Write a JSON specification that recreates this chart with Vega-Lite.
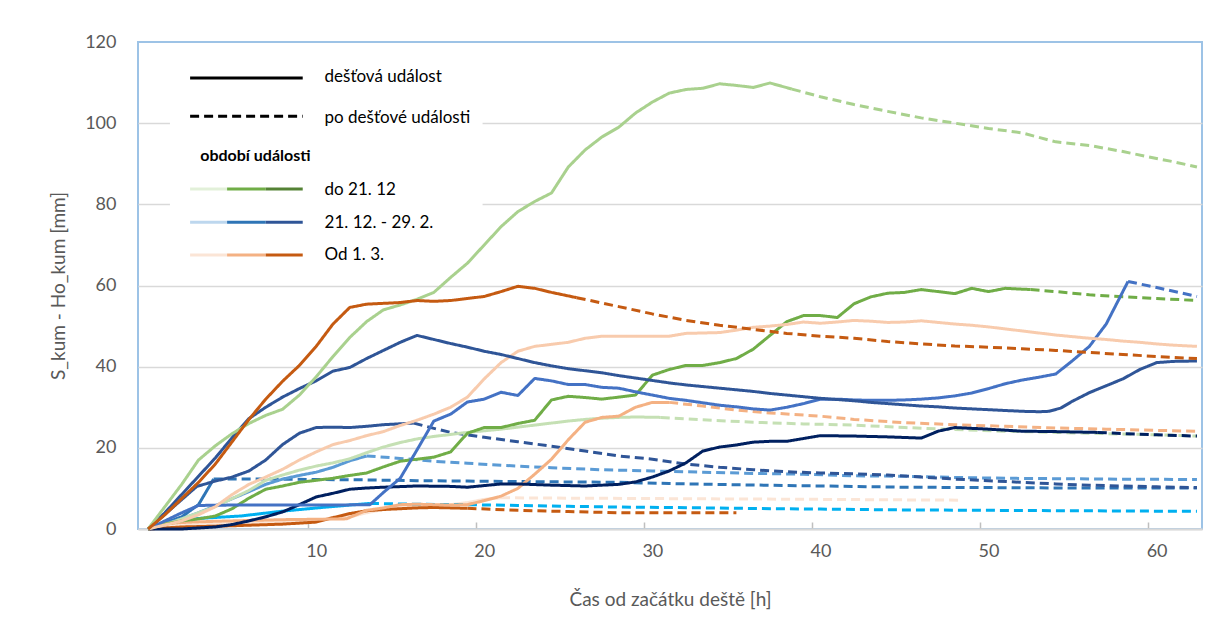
{
"$schema": "https://vega.github.io/schema/vega-lite/v6.json",
"width": 1064, "height": 487,
"autosize": {"type": "none"},
"padding": {"left": 138, "top": 42, "right": 22, "bottom": 107},
"background": "white",
"config": {
  "font": "Lato",
  "view": {"stroke": "#9DC3E6", "strokeWidth": 2},
  "axisX": {"grid": false, "domainColor": "#D9D9D9", "domainWidth": 2, "tickColor": "#BFBFBF", "tickWidth": 1.5, "tickSize": -7, "tickOffset": -8.4, "labelOffset": 8.4, "labelFontSize": 18, "labelColor": "#595959", "labelPadding": 20, "titleFontSize": 19, "titleColor": "#595959", "titleFontWeight": "normal", "titlePadding": 30},
  "axisY": {"domain": false, "ticks": false, "gridColor": {"condition": {"test": "datum.value === 120", "value": "transparent"}, "value": "#D9D9D9"}, "gridWidth": 1.5, "labelFontSize": 18, "labelColor": "#595959", "labelPadding": 22, "titleFontSize": 19, "titleColor": "#595959", "titleFontWeight": "normal", "titlePadding": 16}
},
"encoding": {
  "x": {"field": "x", "type": "quantitative", "scale": {"domain": [-0.6, 62.7], "nice": false, "zero": false}, "axis": {"values": [10, 20, 30, 40, 50, 60], "title": "Čas od začátku deště [h]"}},
  "y": {"field": "y", "type": "quantitative", "scale": {"domain": [0, 120], "nice": false}, "axis": {"values": [0, 20, 40, 60, 80, 100, 120], "title": "S_kum - Ho_kum [mm]"}}
},
"datasets": {
  "box": [{"x": 1.3, "x2": 19.9, "y": 64, "y2": 119.5}],
  "leg": [
    {"s": "K", "p": "d", "x": 2.5, "x2": 9.2, "y": 111.1},
    {"s": "K", "p": "a", "x": 2.5, "x2": 9.2, "y": 101.7},
    {"s": "LG1", "p": "d", "x": 2.5, "x2": 4.7, "y": 83.8},
    {"s": "LG2", "p": "d", "x": 4.7, "x2": 7.0, "y": 83.8},
    {"s": "LG3", "p": "d", "x": 7.0, "x2": 9.2, "y": 83.8},
    {"s": "LB1", "p": "d", "x": 2.5, "x2": 4.7, "y": 75.6},
    {"s": "LB2", "p": "d", "x": 4.7, "x2": 7.0, "y": 75.6},
    {"s": "LB3", "p": "d", "x": 7.0, "x2": 9.2, "y": 75.6},
    {"s": "LO1", "p": "d", "x": 2.5, "x2": 4.7, "y": 67.5},
    {"s": "LO2", "p": "d", "x": 4.7, "x2": 7.0, "y": 67.5},
    {"s": "LO3", "p": "d", "x": 7.0, "x2": 9.2, "y": 67.5}
  ],
  "legtext": [
    {"t": "dešťová událost", "x": 10.5, "y": 111.4},
    {"t": "po dešťové události", "x": 10.5, "y": 101.3},
    {"t": "do 21. 12", "x": 10.5, "y": 83.5},
    {"t": "21. 12. - 29. 2.", "x": 10.5, "y": 75.4},
    {"t": "Od 1. 3.", "x": 10.5, "y": 67.4}
  ],
  "head": [{"t": "období události", "x": 3.1, "y": 92}],
  "lines": [
    {"s":"O5","p":"d","x":0,"y":0},{"s":"O5","p":"d","x":2,"y":0.8},{"s":"O5","p":"d","x":4,"y":1.2},{"s":"O5","p":"d","x":6,"y":1.5},{"s":"O5","p":"d","x":8,"y":1.8},{"s":"O5","p":"d","x":10,"y":2.2},{"s":"O5","p":"d","x":12,"y":3},{"s":"O5","p":"d","x":13,"y":4},{"s":"O5","p":"d","x":14,"y":4.8},{"s":"O5","p":"d","x":15,"y":5.5},{"s":"O5","p":"d","x":16,"y":5.7},{"s":"O5","p":"d","x":17,"y":5.8},{"s":"O5","p":"d","x":18,"y":6},{"s":"O5","p":"d","x":19,"y":6.5},{"s":"O5","p":"d","x":20,"y":7.3},{"s":"O5","p":"d","x":21,"y":7.7},
    {"s":"O5","p":"a","x":21,"y":7.7},{"s":"O5","p":"a","x":25,"y":7.6},{"s":"O5","p":"a","x":30,"y":7.5},{"s":"O5","p":"a","x":35,"y":7.4},{"s":"O5","p":"a","x":40,"y":7.3},{"s":"O5","p":"a","x":44,"y":7.2},{"s":"O5","p":"a","x":48.3,"y":7.1},
    {"s":"B7","p":"d","x":0,"y":0},{"s":"B7","p":"d","x":1.5,"y":2},{"s":"B7","p":"d","x":3,"y":2.6},{"s":"B7","p":"d","x":5.5,"y":3.2},{"s":"B7","p":"d","x":8,"y":4.4},{"s":"B7","p":"d","x":10.6,"y":5.4},{"s":"B7","p":"d","x":12,"y":5.9},{"s":"B7","p":"d","x":13.2,"y":6.3},
    {"s":"B7","p":"a","x":13.2,"y":6.3},{"s":"B7","p":"a","x":16,"y":6.1},{"s":"B7","p":"a","x":19,"y":6},{"s":"B7","p":"a","x":22,"y":5.8},{"s":"B7","p":"a","x":25,"y":5.6},{"s":"B7","p":"a","x":28,"y":5.4},{"s":"B7","p":"a","x":31,"y":5.3},{"s":"B7","p":"a","x":35,"y":5.1},{"s":"B7","p":"a","x":40,"y":4.9},{"s":"B7","p":"a","x":45,"y":4.7},{"s":"B7","p":"a","x":50,"y":4.6},{"s":"B7","p":"a","x":55,"y":4.5},{"s":"B7","p":"a","x":60,"y":4.4},{"s":"B7","p":"a","x":62.4,"y":4.4},
    {"s":"B5","p":"d","x":0,"y":0},{"s":"B5","p":"d","x":1,"y":1.5},{"s":"B5","p":"d","x":2,"y":3},{"s":"B5","p":"d","x":3,"y":6},{"s":"B5","p":"d","x":3.9,"y":12.3},
    {"s":"B5","p":"a","x":3.9,"y":12.3},{"s":"B5","p":"a","x":7,"y":12.3},{"s":"B5","p":"a","x":10,"y":12.2},{"s":"B5","p":"a","x":13,"y":12.1},{"s":"B5","p":"a","x":16,"y":11.9},{"s":"B5","p":"a","x":19,"y":11.8},{"s":"B5","p":"a","x":22,"y":11.7},{"s":"B5","p":"a","x":25,"y":11.6},{"s":"B5","p":"a","x":28,"y":11.5},{"s":"B5","p":"a","x":31,"y":11.2},{"s":"B5","p":"a","x":35,"y":10.9},{"s":"B5","p":"a","x":40,"y":10.6},{"s":"B5","p":"a","x":45,"y":10.3},{"s":"B5","p":"a","x":50,"y":10.2},{"s":"B5","p":"a","x":55,"y":10.1},{"s":"B5","p":"a","x":62.4,"y":10.1},
    {"s":"B4","p":"d","x":0,"y":0},{"s":"B4","p":"d","x":2,"y":2.5},{"s":"B4","p":"d","x":3,"y":4},{"s":"B4","p":"d","x":4.5,"y":6.6},{"s":"B4","p":"d","x":6,"y":9.2},{"s":"B4","p":"d","x":7,"y":11},{"s":"B4","p":"d","x":8,"y":12.3},{"s":"B4","p":"d","x":9,"y":13.2},{"s":"B4","p":"d","x":10,"y":14},{"s":"B4","p":"d","x":11,"y":15.2},{"s":"B4","p":"d","x":12,"y":16.8},{"s":"B4","p":"d","x":13,"y":18},
    {"s":"B4","p":"a","x":13,"y":18},{"s":"B4","p":"a","x":15,"y":17.4},{"s":"B4","p":"a","x":17,"y":16.7},{"s":"B4","p":"a","x":19,"y":16.2},{"s":"B4","p":"a","x":21,"y":15.7},{"s":"B4","p":"a","x":24,"y":15.1},{"s":"B4","p":"a","x":27,"y":14.6},{"s":"B4","p":"a","x":30,"y":14.3},{"s":"B4","p":"a","x":33,"y":14},{"s":"B4","p":"a","x":36,"y":13.7},{"s":"B4","p":"a","x":39,"y":13.5},{"s":"B4","p":"a","x":42,"y":13.1},{"s":"B4","p":"a","x":45,"y":13},{"s":"B4","p":"a","x":48,"y":12.7},{"s":"B4","p":"a","x":51,"y":12.5},{"s":"B4","p":"a","x":54,"y":12.4},{"s":"B4","p":"a","x":57,"y":12.3},{"s":"B4","p":"a","x":62.4,"y":12.2},
    {"s":"B3","p":"d","x":0,"y":0},{"s":"B3","p":"d","x":2.9,"y":10.5},{"s":"B3","p":"d","x":4,"y":11.8},{"s":"B3","p":"d","x":5,"y":12.8},{"s":"B3","p":"d","x":6,"y":14.3},{"s":"B3","p":"d","x":7,"y":17},{"s":"B3","p":"d","x":8,"y":20.8},{"s":"B3","p":"d","x":9,"y":23.6},{"s":"B3","p":"d","x":10,"y":25},{"s":"B3","p":"d","x":11,"y":25.1},{"s":"B3","p":"d","x":12,"y":25},{"s":"B3","p":"d","x":13,"y":25.3},{"s":"B3","p":"d","x":14,"y":25.7},{"s":"B3","p":"d","x":15.8,"y":26.1},
    {"s":"B3","p":"a","x":15.8,"y":26.1},{"s":"B3","p":"a","x":17,"y":24.8},{"s":"B3","p":"a","x":18,"y":23.8},{"s":"B3","p":"a","x":19,"y":23.2},{"s":"B3","p":"a","x":20,"y":22.6},{"s":"B3","p":"a","x":22,"y":21.5},{"s":"B3","p":"a","x":24,"y":20.4},{"s":"B3","p":"a","x":26,"y":19.2},{"s":"B3","p":"a","x":28,"y":18},{"s":"B3","p":"a","x":30,"y":17.2},{"s":"B3","p":"a","x":32,"y":16},{"s":"B3","p":"a","x":34,"y":15.2},{"s":"B3","p":"a","x":36,"y":14.6},{"s":"B3","p":"a","x":38,"y":14.1},{"s":"B3","p":"a","x":40,"y":13.8},{"s":"B3","p":"a","x":42,"y":13.6},{"s":"B3","p":"a","x":44,"y":13.3},{"s":"B3","p":"a","x":46,"y":12.8},{"s":"B3","p":"a","x":48,"y":12.3},{"s":"B3","p":"a","x":50,"y":11.9},{"s":"B3","p":"a","x":52,"y":11.5},{"s":"B3","p":"a","x":54,"y":11.1},{"s":"B3","p":"a","x":56,"y":10.8},{"s":"B3","p":"a","x":58,"y":10.6},{"s":"B3","p":"a","x":60,"y":10.4},{"s":"B3","p":"a","x":62.4,"y":10.2},
    {"s":"G3","p":"d","x":0,"y":0},{"s":"G3","p":"d","x":1,"y":1},{"s":"G3","p":"d","x":2,"y":2.5},{"s":"G3","p":"d","x":3,"y":4},{"s":"G3","p":"d","x":4,"y":5.5},{"s":"G3","p":"d","x":5,"y":7.5},{"s":"G3","p":"d","x":6,"y":9.5},{"s":"G3","p":"d","x":7,"y":12},{"s":"G3","p":"d","x":8,"y":13.3},{"s":"G3","p":"d","x":9,"y":14.5},{"s":"G3","p":"d","x":10,"y":15.5},{"s":"G3","p":"d","x":11,"y":16.3},{"s":"G3","p":"d","x":12,"y":17.3},{"s":"G3","p":"d","x":13,"y":18.8},{"s":"G3","p":"d","x":14,"y":20.2},{"s":"G3","p":"d","x":15,"y":21.3},{"s":"G3","p":"d","x":16,"y":22.2},{"s":"G3","p":"d","x":17,"y":22.8},{"s":"G3","p":"d","x":18,"y":23.3},{"s":"G3","p":"d","x":19,"y":23.8},{"s":"G3","p":"d","x":20,"y":24.2},{"s":"G3","p":"d","x":21,"y":24.6},{"s":"G3","p":"d","x":22,"y":25.1},{"s":"G3","p":"d","x":23,"y":25.6},{"s":"G3","p":"d","x":24,"y":26.1},{"s":"G3","p":"d","x":25,"y":26.6},{"s":"G3","p":"d","x":26,"y":27},{"s":"G3","p":"d","x":27,"y":27.3},{"s":"G3","p":"d","x":28,"y":27.5},{"s":"G3","p":"d","x":29,"y":27.6},{"s":"G3","p":"d","x":30.5,"y":27.5},
    {"s":"G3","p":"a","x":30.5,"y":27.5},{"s":"G3","p":"a","x":33,"y":26.9},{"s":"G3","p":"a","x":36,"y":26.3},{"s":"G3","p":"a","x":39,"y":25.9},{"s":"G3","p":"a","x":42,"y":25.6},{"s":"G3","p":"a","x":45,"y":25},{"s":"G3","p":"a","x":48,"y":24.5},{"s":"G3","p":"a","x":51,"y":24.1},{"s":"G3","p":"a","x":54,"y":23.8},{"s":"G3","p":"a","x":57,"y":23.5},{"s":"G3","p":"a","x":60,"y":23.2},{"s":"G3","p":"a","x":62.4,"y":22.9},
    {"s":"O4","p":"d","x":0,"y":0},{"s":"O4","p":"d","x":2,"y":0.5},{"s":"O4","p":"d","x":5,"y":0.8},{"s":"O4","p":"d","x":8,"y":1.2},{"s":"O4","p":"d","x":10,"y":1.7},{"s":"O4","p":"d","x":11,"y":2.8},{"s":"O4","p":"d","x":12,"y":3.8},{"s":"O4","p":"d","x":13,"y":4.5},{"s":"O4","p":"d","x":14,"y":4.8},{"s":"O4","p":"d","x":15,"y":5},{"s":"O4","p":"d","x":16,"y":5.2},{"s":"O4","p":"d","x":17,"y":5.3},{"s":"O4","p":"d","x":18,"y":5.2},{"s":"O4","p":"d","x":19,"y":5.1},
    {"s":"O4","p":"a","x":19,"y":5.1},{"s":"O4","p":"a","x":22,"y":4.6},{"s":"O4","p":"a","x":25,"y":4.3},{"s":"O4","p":"a","x":28,"y":4},{"s":"O4","p":"a","x":31,"y":4},{"s":"O4","p":"a","x":35,"y":4},
    {"s":"O3","p":"d","x":0,"y":0},{"s":"O3","p":"d","x":1,"y":1.2},{"s":"O3","p":"d","x":2,"y":1.6},{"s":"O3","p":"d","x":4,"y":1.9},{"s":"O3","p":"d","x":6,"y":2.1},{"s":"O3","p":"d","x":8,"y":2.3},{"s":"O3","p":"d","x":10,"y":2.4},{"s":"O3","p":"d","x":11.8,"y":2.5},{"s":"O3","p":"d","x":13,"y":4.6},{"s":"O3","p":"d","x":14,"y":5.2},{"s":"O3","p":"d","x":15,"y":6},{"s":"O3","p":"d","x":16,"y":6.1},{"s":"O3","p":"d","x":17,"y":6},{"s":"O3","p":"d","x":18,"y":5.9},{"s":"O3","p":"d","x":19,"y":6},{"s":"O3","p":"d","x":20,"y":7},{"s":"O3","p":"d","x":21,"y":8.1},{"s":"O3","p":"d","x":22,"y":10},{"s":"O3","p":"d","x":23,"y":13.5},{"s":"O3","p":"d","x":24,"y":17.2},{"s":"O3","p":"d","x":25,"y":22},{"s":"O3","p":"d","x":26,"y":26.3},{"s":"O3","p":"d","x":27,"y":27.5},{"s":"O3","p":"d","x":28,"y":27.8},{"s":"O3","p":"d","x":29,"y":30},{"s":"O3","p":"d","x":30,"y":31.2},{"s":"O3","p":"d","x":31,"y":31.2},
    {"s":"O3","p":"a","x":31,"y":31.2},{"s":"O3","p":"a","x":33,"y":30.3},{"s":"O3","p":"a","x":35,"y":29.3},{"s":"O3","p":"a","x":37,"y":28.6},{"s":"O3","p":"a","x":40,"y":27.8},{"s":"O3","p":"a","x":42,"y":27},{"s":"O3","p":"a","x":45,"y":26.2},{"s":"O3","p":"a","x":48,"y":25.7},{"s":"O3","p":"a","x":51,"y":25.3},{"s":"O3","p":"a","x":54,"y":24.9},{"s":"O3","p":"a","x":57,"y":24.6},{"s":"O3","p":"a","x":60,"y":24.3},{"s":"O3","p":"a","x":62.4,"y":24.1},
    {"s":"B6","p":"d","x":0,"y":0},{"s":"B6","p":"d","x":2,"y":0},{"s":"B6","p":"d","x":4,"y":0.5},{"s":"B6","p":"d","x":5,"y":1.1},{"s":"B6","p":"d","x":6,"y":2},{"s":"B6","p":"d","x":7,"y":3},{"s":"B6","p":"d","x":8,"y":4.2},{"s":"B6","p":"d","x":9,"y":6},{"s":"B6","p":"d","x":10,"y":7.9},{"s":"B6","p":"d","x":11,"y":8.8},{"s":"B6","p":"d","x":12,"y":9.8},{"s":"B6","p":"d","x":13,"y":10.1},{"s":"B6","p":"d","x":14,"y":10.3},{"s":"B6","p":"d","x":16,"y":10.6},{"s":"B6","p":"d","x":18,"y":10.5},{"s":"B6","p":"d","x":19,"y":10.3},{"s":"B6","p":"d","x":20,"y":10.7},{"s":"B6","p":"d","x":21,"y":11.1},{"s":"B6","p":"d","x":22,"y":11.1},{"s":"B6","p":"d","x":24,"y":10.8},{"s":"B6","p":"d","x":26,"y":10.6},{"s":"B6","p":"d","x":28,"y":11},{"s":"B6","p":"d","x":29,"y":11.6},{"s":"B6","p":"d","x":30,"y":12.8},{"s":"B6","p":"d","x":31,"y":14.3},{"s":"B6","p":"d","x":32,"y":16.3},{"s":"B6","p":"d","x":33,"y":19.2},{"s":"B6","p":"d","x":34,"y":20.2},{"s":"B6","p":"d","x":35,"y":20.7},{"s":"B6","p":"d","x":36,"y":21.4},{"s":"B6","p":"d","x":37,"y":21.6},{"s":"B6","p":"d","x":38,"y":21.6},{"s":"B6","p":"d","x":39,"y":22.3},{"s":"B6","p":"d","x":40,"y":23},{"s":"B6","p":"d","x":42,"y":22.9},{"s":"B6","p":"d","x":44,"y":22.7},{"s":"B6","p":"d","x":46,"y":22.4},{"s":"B6","p":"d","x":47,"y":24.1},{"s":"B6","p":"d","x":48,"y":25},{"s":"B6","p":"d","x":50,"y":24.6},{"s":"B6","p":"d","x":52,"y":24.1},{"s":"B6","p":"d","x":54,"y":24},{"s":"B6","p":"d","x":56.5,"y":23.8},
    {"s":"B6","p":"a","x":56.5,"y":23.8},{"s":"B6","p":"a","x":58,"y":23.5},{"s":"B6","p":"a","x":60,"y":23.2},{"s":"B6","p":"a","x":62.4,"y":22.9},
    {"s":"G2","p":"d","x":0,"y":0},{"s":"G2","p":"d","x":1,"y":1.2},{"s":"G2","p":"d","x":2,"y":2},{"s":"G2","p":"d","x":3,"y":2.5},{"s":"G2","p":"d","x":4,"y":3.2},{"s":"G2","p":"d","x":5,"y":5},{"s":"G2","p":"d","x":6,"y":7.6},{"s":"G2","p":"d","x":7,"y":9.8},{"s":"G2","p":"d","x":8,"y":10.6},{"s":"G2","p":"d","x":9,"y":11.5},{"s":"G2","p":"d","x":10,"y":12},{"s":"G2","p":"d","x":11,"y":12.5},{"s":"G2","p":"d","x":12,"y":13.2},{"s":"G2","p":"d","x":13,"y":13.8},{"s":"G2","p":"d","x":14,"y":15.3},{"s":"G2","p":"d","x":15,"y":16.7},{"s":"G2","p":"d","x":16,"y":17.2},{"s":"G2","p":"d","x":17,"y":17.7},{"s":"G2","p":"d","x":18,"y":19},{"s":"G2","p":"d","x":19,"y":23.6},{"s":"G2","p":"d","x":20,"y":25},{"s":"G2","p":"d","x":21,"y":25},{"s":"G2","p":"d","x":22,"y":26},{"s":"G2","p":"d","x":23,"y":26.8},{"s":"G2","p":"d","x":24,"y":31.8},{"s":"G2","p":"d","x":25,"y":32.7},{"s":"G2","p":"d","x":26,"y":32.4},{"s":"G2","p":"d","x":27,"y":32},{"s":"G2","p":"d","x":28,"y":32.5},{"s":"G2","p":"d","x":29,"y":33},{"s":"G2","p":"d","x":30,"y":37.9},{"s":"G2","p":"d","x":31,"y":39.3},{"s":"G2","p":"d","x":32,"y":40.3},{"s":"G2","p":"d","x":33,"y":40.3},{"s":"G2","p":"d","x":34,"y":41},{"s":"G2","p":"d","x":35,"y":42},{"s":"G2","p":"d","x":36,"y":44.3},{"s":"G2","p":"d","x":37,"y":47.7},{"s":"G2","p":"d","x":38,"y":51.1},{"s":"G2","p":"d","x":39,"y":52.6},{"s":"G2","p":"d","x":40,"y":52.6},{"s":"G2","p":"d","x":41,"y":52.1},{"s":"G2","p":"d","x":42,"y":55.5},{"s":"G2","p":"d","x":43,"y":57.2},{"s":"G2","p":"d","x":44,"y":58.1},{"s":"G2","p":"d","x":45,"y":58.3},{"s":"G2","p":"d","x":46,"y":59},{"s":"G2","p":"d","x":47,"y":58.5},{"s":"G2","p":"d","x":48,"y":58},{"s":"G2","p":"d","x":49,"y":59.3},{"s":"G2","p":"d","x":50,"y":58.5},{"s":"G2","p":"d","x":51,"y":59.3},{"s":"G2","p":"d","x":52.5,"y":59},
    {"s":"G2","p":"a","x":52.5,"y":59},{"s":"G2","p":"a","x":54,"y":58.5},{"s":"G2","p":"a","x":56,"y":57.7},{"s":"G2","p":"a","x":58,"y":57.2},{"s":"G2","p":"a","x":60,"y":56.8},{"s":"G2","p":"a","x":62.4,"y":56.3},
    {"s":"B2","p":"d","x":0,"y":0},{"s":"B2","p":"d","x":1,"y":2},{"s":"B2","p":"d","x":2,"y":4},{"s":"B2","p":"d","x":3,"y":5.8},{"s":"B2","p":"d","x":5,"y":5.9},{"s":"B2","p":"d","x":8,"y":5.9},{"s":"B2","p":"d","x":11,"y":5.9},{"s":"B2","p":"d","x":13.2,"y":6},{"s":"B2","p":"d","x":14,"y":9},{"s":"B2","p":"d","x":15,"y":12.5},{"s":"B2","p":"d","x":16,"y":19.5},{"s":"B2","p":"d","x":17,"y":26.6},{"s":"B2","p":"d","x":18,"y":28.3},{"s":"B2","p":"d","x":19,"y":31.3},{"s":"B2","p":"d","x":20,"y":32},{"s":"B2","p":"d","x":21,"y":33.7},{"s":"B2","p":"d","x":22,"y":32.9},{"s":"B2","p":"d","x":23,"y":37.1},{"s":"B2","p":"d","x":24,"y":36.5},{"s":"B2","p":"d","x":25,"y":35.6},{"s":"B2","p":"d","x":26,"y":35.6},{"s":"B2","p":"d","x":27,"y":34.9},{"s":"B2","p":"d","x":28,"y":34.7},{"s":"B2","p":"d","x":29,"y":33.8},{"s":"B2","p":"d","x":30,"y":33},{"s":"B2","p":"d","x":31,"y":32.2},{"s":"B2","p":"d","x":32,"y":31.7},{"s":"B2","p":"d","x":33,"y":31.1},{"s":"B2","p":"d","x":34,"y":30.5},{"s":"B2","p":"d","x":35,"y":30.1},{"s":"B2","p":"d","x":36,"y":29.6},{"s":"B2","p":"d","x":37,"y":29.3},{"s":"B2","p":"d","x":38,"y":30},{"s":"B2","p":"d","x":39,"y":30.9},{"s":"B2","p":"d","x":40,"y":32},{"s":"B2","p":"d","x":41,"y":32},{"s":"B2","p":"d","x":42,"y":31.8},{"s":"B2","p":"d","x":43,"y":31.7},{"s":"B2","p":"d","x":44,"y":31.7},{"s":"B2","p":"d","x":45,"y":31.8},{"s":"B2","p":"d","x":46,"y":32},{"s":"B2","p":"d","x":47,"y":32.3},{"s":"B2","p":"d","x":48,"y":32.8},{"s":"B2","p":"d","x":49,"y":33.5},{"s":"B2","p":"d","x":50,"y":34.6},{"s":"B2","p":"d","x":51,"y":35.8},{"s":"B2","p":"d","x":52,"y":36.7},{"s":"B2","p":"d","x":53,"y":37.4},{"s":"B2","p":"d","x":54,"y":38.2},{"s":"B2","p":"d","x":55,"y":41.5},{"s":"B2","p":"d","x":56,"y":45},{"s":"B2","p":"d","x":57,"y":50.5},{"s":"B2","p":"d","x":58.3,"y":61},
    {"s":"B2","p":"a","x":58.3,"y":61},{"s":"B2","p":"a","x":60,"y":59.5},{"s":"B2","p":"a","x":62.4,"y":57.3},
    {"s":"O2","p":"d","x":0,"y":0},{"s":"O2","p":"d","x":1,"y":1},{"s":"O2","p":"d","x":2,"y":2},{"s":"O2","p":"d","x":3,"y":3.5},{"s":"O2","p":"d","x":4,"y":5.5},{"s":"O2","p":"d","x":5,"y":8.5},{"s":"O2","p":"d","x":6,"y":11},{"s":"O2","p":"d","x":7,"y":12.8},{"s":"O2","p":"d","x":8,"y":14.7},{"s":"O2","p":"d","x":9,"y":17},{"s":"O2","p":"d","x":10,"y":19},{"s":"O2","p":"d","x":11,"y":20.8},{"s":"O2","p":"d","x":12,"y":21.8},{"s":"O2","p":"d","x":13,"y":23},{"s":"O2","p":"d","x":14,"y":24},{"s":"O2","p":"d","x":15,"y":25.5},{"s":"O2","p":"d","x":16,"y":26.8},{"s":"O2","p":"d","x":17,"y":28.3},{"s":"O2","p":"d","x":18,"y":30},{"s":"O2","p":"d","x":19,"y":32.5},{"s":"O2","p":"d","x":20,"y":37},{"s":"O2","p":"d","x":21,"y":41},{"s":"O2","p":"d","x":22,"y":43.8},{"s":"O2","p":"d","x":23,"y":45},{"s":"O2","p":"d","x":24,"y":45.5},{"s":"O2","p":"d","x":25,"y":46},{"s":"O2","p":"d","x":26,"y":47},{"s":"O2","p":"d","x":27,"y":47.5},{"s":"O2","p":"d","x":29,"y":47.5},{"s":"O2","p":"d","x":31,"y":47.5},{"s":"O2","p":"d","x":32,"y":48.2},{"s":"O2","p":"d","x":34,"y":48.4},{"s":"O2","p":"d","x":35,"y":49},{"s":"O2","p":"d","x":36,"y":49.7},{"s":"O2","p":"d","x":37,"y":50},{"s":"O2","p":"d","x":38,"y":50.4},{"s":"O2","p":"d","x":39,"y":51},{"s":"O2","p":"d","x":40,"y":50.7},{"s":"O2","p":"d","x":41,"y":51},{"s":"O2","p":"d","x":42,"y":51.4},{"s":"O2","p":"d","x":43,"y":51.2},{"s":"O2","p":"d","x":44,"y":50.9},{"s":"O2","p":"d","x":45,"y":51},{"s":"O2","p":"d","x":46,"y":51.3},{"s":"O2","p":"d","x":47,"y":50.9},{"s":"O2","p":"d","x":48,"y":50.5},{"s":"O2","p":"d","x":49,"y":50.2},{"s":"O2","p":"d","x":50,"y":49.8},{"s":"O2","p":"d","x":51,"y":49.3},{"s":"O2","p":"d","x":52,"y":48.8},{"s":"O2","p":"d","x":53,"y":48.3},{"s":"O2","p":"d","x":54,"y":47.8},{"s":"O2","p":"d","x":55,"y":47.4},{"s":"O2","p":"d","x":56,"y":47},{"s":"O2","p":"d","x":57,"y":46.7},{"s":"O2","p":"d","x":58,"y":46.3},{"s":"O2","p":"d","x":59,"y":46},{"s":"O2","p":"d","x":60,"y":45.6},{"s":"O2","p":"d","x":61,"y":45.3},{"s":"O2","p":"d","x":62.4,"y":45},
    {"s":"B1","p":"d","x":0,"y":0},{"s":"B1","p":"d","x":1,"y":4},{"s":"B1","p":"d","x":2,"y":8.5},{"s":"B1","p":"d","x":3,"y":13},{"s":"B1","p":"d","x":4,"y":17.5},{"s":"B1","p":"d","x":5,"y":22.5},{"s":"B1","p":"d","x":6,"y":27.2},{"s":"B1","p":"d","x":7,"y":30},{"s":"B1","p":"d","x":8,"y":32.5},{"s":"B1","p":"d","x":9,"y":34.6},{"s":"B1","p":"d","x":10,"y":36.5},{"s":"B1","p":"d","x":11,"y":38.9},{"s":"B1","p":"d","x":12,"y":39.8},{"s":"B1","p":"d","x":13,"y":42},{"s":"B1","p":"d","x":14,"y":44},{"s":"B1","p":"d","x":15,"y":46},{"s":"B1","p":"d","x":16,"y":47.7},{"s":"B1","p":"d","x":17,"y":46.7},{"s":"B1","p":"d","x":18,"y":45.7},{"s":"B1","p":"d","x":19,"y":44.8},{"s":"B1","p":"d","x":20,"y":43.8},{"s":"B1","p":"d","x":21,"y":43},{"s":"B1","p":"d","x":22,"y":42},{"s":"B1","p":"d","x":23,"y":41},{"s":"B1","p":"d","x":24,"y":40.2},{"s":"B1","p":"d","x":25,"y":39.5},{"s":"B1","p":"d","x":26,"y":39},{"s":"B1","p":"d","x":27,"y":38.5},{"s":"B1","p":"d","x":28,"y":37.8},{"s":"B1","p":"d","x":29,"y":37.2},{"s":"B1","p":"d","x":30,"y":36.6},{"s":"B1","p":"d","x":31,"y":36},{"s":"B1","p":"d","x":32,"y":35.5},{"s":"B1","p":"d","x":33,"y":35.1},{"s":"B1","p":"d","x":34,"y":34.7},{"s":"B1","p":"d","x":35,"y":34.3},{"s":"B1","p":"d","x":36,"y":33.9},{"s":"B1","p":"d","x":37,"y":33.4},{"s":"B1","p":"d","x":38,"y":33},{"s":"B1","p":"d","x":39,"y":32.6},{"s":"B1","p":"d","x":40,"y":32.2},{"s":"B1","p":"d","x":41,"y":31.9},{"s":"B1","p":"d","x":42,"y":31.6},{"s":"B1","p":"d","x":43,"y":31.2},{"s":"B1","p":"d","x":44,"y":30.9},{"s":"B1","p":"d","x":45,"y":30.6},{"s":"B1","p":"d","x":46,"y":30.3},{"s":"B1","p":"d","x":47,"y":30.1},{"s":"B1","p":"d","x":48,"y":29.8},{"s":"B1","p":"d","x":49,"y":29.6},{"s":"B1","p":"d","x":50,"y":29.4},{"s":"B1","p":"d","x":51,"y":29.2},{"s":"B1","p":"d","x":52,"y":29},{"s":"B1","p":"d","x":53,"y":28.9},{"s":"B1","p":"d","x":53.6,"y":29},{"s":"B1","p":"d","x":54.3,"y":29.8},{"s":"B1","p":"d","x":55,"y":31.5},{"s":"B1","p":"d","x":56,"y":33.6},{"s":"B1","p":"d","x":57,"y":35.3},{"s":"B1","p":"d","x":58,"y":37},{"s":"B1","p":"d","x":59,"y":39.3},{"s":"B1","p":"d","x":60,"y":41},{"s":"B1","p":"d","x":61,"y":41.3},{"s":"B1","p":"d","x":62.4,"y":41.4},
    {"s":"G1","p":"d","x":0,"y":0},{"s":"G1","p":"d","x":1,"y":5.5},{"s":"G1","p":"d","x":2,"y":11},{"s":"G1","p":"d","x":3,"y":17},{"s":"G1","p":"d","x":4,"y":20.5},{"s":"G1","p":"d","x":5,"y":23.5},{"s":"G1","p":"d","x":6,"y":26},{"s":"G1","p":"d","x":7,"y":28},{"s":"G1","p":"d","x":8,"y":29.5},{"s":"G1","p":"d","x":9,"y":33},{"s":"G1","p":"d","x":10,"y":37.5},{"s":"G1","p":"d","x":11,"y":42.5},{"s":"G1","p":"d","x":12,"y":47.2},{"s":"G1","p":"d","x":13,"y":51.1},{"s":"G1","p":"d","x":14,"y":54},{"s":"G1","p":"d","x":15,"y":55.2},{"s":"G1","p":"d","x":16,"y":56.6},{"s":"G1","p":"d","x":17,"y":58.3},{"s":"G1","p":"d","x":18,"y":62},{"s":"G1","p":"d","x":19,"y":65.5},{"s":"G1","p":"d","x":20,"y":70},{"s":"G1","p":"d","x":21,"y":74.5},{"s":"G1","p":"d","x":22,"y":78.2},{"s":"G1","p":"d","x":23,"y":80.7},{"s":"G1","p":"d","x":24,"y":82.8},{"s":"G1","p":"d","x":25,"y":89.2},{"s":"G1","p":"d","x":26,"y":93.4},{"s":"G1","p":"d","x":27,"y":96.6},{"s":"G1","p":"d","x":28,"y":99},{"s":"G1","p":"d","x":29,"y":102.5},{"s":"G1","p":"d","x":30,"y":105.2},{"s":"G1","p":"d","x":31,"y":107.4},{"s":"G1","p":"d","x":32,"y":108.3},{"s":"G1","p":"d","x":33,"y":108.6},{"s":"G1","p":"d","x":34,"y":109.7},{"s":"G1","p":"d","x":35,"y":109.3},{"s":"G1","p":"d","x":36,"y":108.8},{"s":"G1","p":"d","x":37,"y":109.9},{"s":"G1","p":"d","x":38.3,"y":108.4},
    {"s":"G1","p":"a","x":38.3,"y":108.4},{"s":"G1","p":"a","x":40,"y":106.5},{"s":"G1","p":"a","x":42,"y":104.6},{"s":"G1","p":"a","x":44,"y":102.9},{"s":"G1","p":"a","x":46,"y":101.3},{"s":"G1","p":"a","x":48,"y":100},{"s":"G1","p":"a","x":50,"y":98.7},{"s":"G1","p":"a","x":52,"y":97.6},{"s":"G1","p":"a","x":54,"y":95.4},{"s":"G1","p":"a","x":56,"y":94.5},{"s":"G1","p":"a","x":58,"y":93},{"s":"G1","p":"a","x":60,"y":91.3},{"s":"G1","p":"a","x":61,"y":90.5},{"s":"G1","p":"a","x":62.4,"y":89.2},
    {"s":"O1","p":"d","x":0,"y":0},{"s":"O1","p":"d","x":1,"y":3.5},{"s":"O1","p":"d","x":2,"y":7.5},{"s":"O1","p":"d","x":3,"y":11.5},{"s":"O1","p":"d","x":4,"y":16},{"s":"O1","p":"d","x":5,"y":21.5},{"s":"O1","p":"d","x":6,"y":27},{"s":"O1","p":"d","x":7,"y":32},{"s":"O1","p":"d","x":8,"y":36.4},{"s":"O1","p":"d","x":9,"y":40.3},{"s":"O1","p":"d","x":10,"y":45},{"s":"O1","p":"d","x":11,"y":50.5},{"s":"O1","p":"d","x":12,"y":54.6},{"s":"O1","p":"d","x":13,"y":55.4},{"s":"O1","p":"d","x":14,"y":55.6},{"s":"O1","p":"d","x":15,"y":55.8},{"s":"O1","p":"d","x":16,"y":56.3},{"s":"O1","p":"d","x":17,"y":56.1},{"s":"O1","p":"d","x":18,"y":56.3},{"s":"O1","p":"d","x":19,"y":56.8},{"s":"O1","p":"d","x":20,"y":57.3},{"s":"O1","p":"d","x":21,"y":58.5},{"s":"O1","p":"d","x":22,"y":59.8},{"s":"O1","p":"d","x":23,"y":59.3},{"s":"O1","p":"d","x":24,"y":58.3},{"s":"O1","p":"d","x":25.5,"y":57},
    {"s":"O1","p":"a","x":25.5,"y":57},{"s":"O1","p":"a","x":28,"y":54.8},{"s":"O1","p":"a","x":30,"y":53},{"s":"O1","p":"a","x":32,"y":51.4},{"s":"O1","p":"a","x":34,"y":50.2},{"s":"O1","p":"a","x":36,"y":49.2},{"s":"O1","p":"a","x":38,"y":48.2},{"s":"O1","p":"a","x":40,"y":47.5},{"s":"O1","p":"a","x":42,"y":47},{"s":"O1","p":"a","x":44,"y":46.2},{"s":"O1","p":"a","x":46,"y":45.6},{"s":"O1","p":"a","x":48,"y":45.1},{"s":"O1","p":"a","x":50,"y":44.8},{"s":"O1","p":"a","x":52,"y":44.4},{"s":"O1","p":"a","x":54,"y":44},{"s":"O1","p":"a","x":56,"y":43.5},{"s":"O1","p":"a","x":58,"y":43},{"s":"O1","p":"a","x":60,"y":42.5},{"s":"O1","p":"a","x":62.4,"y":42}
  ]
},
"layer": [
  {"data": {"name": "box"}, "mark": {"type": "rect", "fill": "white"}, "encoding": {"x2": {"field": "x2"}, "y2": {"field": "y2"}}},
  {"data": {"name": "lines"}, "mark": {"type": "line", "strokeWidth": 3, "strokeCap": "butt", "strokeJoin": "round"},
   "encoding": {
     "color": {"field": "s", "type": "nominal", "legend": null, "scale": {"domain": ["G1","G2","G3","B1","B2","B3","B4","B5","B6","B7","O1","O2","O3","O4","O5","K","LG1","LG2","LG3","LB1","LB2","LB3","LO1","LO2","LO3"], "range": ["#A9D18E","#70AD47","#C5E0B4","#2F5597","#4472C4","#2F5597","#5B9BD5","#2E75B6","#002060","#00B0F0","#C55A11","#F8CBAD","#F4B183","#C55A11","#FBE5D6","#000000","#E2F0D9","#70AD47","#548235","#BDD7EE","#2E75B6","#2F5597","#FBE5D6","#F4B183","#C55A11"]}},
     "strokeDash": {"field": "p", "type": "nominal", "legend": null, "scale": {"domain": ["d","a"], "range": [[1,0],[9,5]]}}
   }},
  {"data": {"name": "leg"}, "mark": {"type": "rule", "strokeWidth": 3, "strokeCap": "butt"},
   "encoding": {
     "x2": {"field": "x2"},
     "color": {"field": "s", "type": "nominal", "legend": null, "scale": {"domain": ["G1","G2","G3","B1","B2","B3","B4","B5","B6","B7","O1","O2","O3","O4","O5","K","LG1","LG2","LG3","LB1","LB2","LB3","LO1","LO2","LO3"], "range": ["#A9D18E","#70AD47","#C5E0B4","#2F5597","#4472C4","#2F5597","#5B9BD5","#2E75B6","#002060","#00B0F0","#C55A11","#F8CBAD","#F4B183","#C55A11","#FBE5D6","#000000","#E2F0D9","#70AD47","#548235","#BDD7EE","#2E75B6","#2F5597","#FBE5D6","#F4B183","#C55A11"]}},
     "strokeDash": {"field": "p", "type": "nominal", "legend": null, "scale": {"domain": ["d","a"], "range": [[1,0],[9,5]]}}
   }},
  {"data": {"name": "legtext"}, "mark": {"type": "text", "align": "left", "baseline": "middle", "fontSize": 17, "color": "#000000", "font": "Lato"}, "encoding": {"text": {"field": "t"}}},
  {"data": {"name": "head"}, "mark": {"type": "text", "align": "left", "baseline": "middle", "fontSize": 16, "fontWeight": "bold", "color": "#000000", "font": "Lato"}, "encoding": {"text": {"field": "t"}}}
]
}
